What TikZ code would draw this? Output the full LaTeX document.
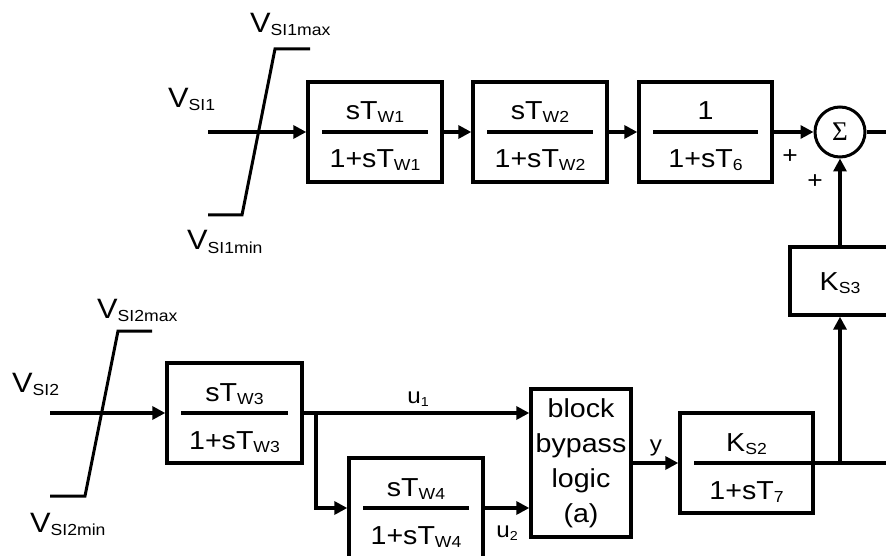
\documentclass[tikz,border=0pt]{standalone}
\usepackage{fontspec}
\setmainfont{Liberation Sans}[FakeStretch=1.1]
\newfontfamily\sigfont{Liberation Serif}
\usetikzlibrary{arrows.meta,calc}
\newcommand{\sbs}[1]{\raisebox{-3pt}{\fontsize{16}{16}\selectfont #1}}
\newcommand{\usbs}[1]{\raisebox{-3pt}{\fontsize{13}{13}\selectfont #1}}
\begin{document}
\begin{tikzpicture}[x=1pt,y=-1pt,
  blk/.style={draw, line width=3.4pt, inner sep=0pt, minimum width=134pt, minimum height=100pt},
  txt/.style={inner sep=0pt, font=\fontsize{26}{32}\selectfont},
  vlbl/.style={inner sep=0pt, font=\fontsize{28}{32}\selectfont},
  lbl/.style={inner sep=0pt, font=\fontsize{22}{26}\selectfont},
  wire/.style={line width=3.2pt},
  arr/.style={wire, -{Triangle[length=13pt,width=13pt]}},
  thickarr/.style={line width=3.8pt, -{Triangle[length=13pt,width=13pt]}},
  fracline/.style={line width=3.4pt},
  limiter/.style={line width=3pt}
]
\clip (0,0) rectangle (886,556);
\fill[white] (0,0) rectangle (886,556);

% ---------- top row ----------
\node[blk] (w1) at (375,132) {};
\node[txt, anchor=base] (n1) at ($(w1.center)+(0,-12)$) {sT\sbs{W1}};
\node[txt, anchor=base] (d1) at ($(w1.center)+(0,36)$) {1+sT\sbs{W1}};
\draw[fracline] ($(w1.west)+(16,0)$) -- ($(w1.east)+(-16,0)$);

\node[blk] (w2) at (540,132) {};
\node[txt, anchor=base] (n2) at ($(w2.center)+(0,-12)$) {sT\sbs{W2}};
\node[txt, anchor=base] (d2) at ($(w2.center)+(0,36)$) {1+sT\sbs{W2}};
\draw[fracline] ($(w2.west)+(16,0)$) -- ($(w2.east)+(-16,0)$);

\node[blk, minimum width=133pt] (w6) at (705.5,132) {};
\node[txt, anchor=base] (n6) at ($(w6.center)+(0,-12)$) {1};
\node[txt, anchor=base] (d6) at ($(w6.center)+(0,36)$) {1+sT\sbs{6}};
\draw[fracline] ($(w6.west)+(16,0)$) -- ($(w6.east)+(-16,0)$);

\node[draw, circle, line width=3pt, minimum size=50pt, inner sep=0pt,
      font=\sigfont\fontsize{27}{27}\selectfont] (sum) at (840,132) {Σ};
\node[lbl, font=\fontsize{24}{24}\selectfont] (p1) at (790,157) {+};
\node[lbl, font=\fontsize{24}{24}\selectfont] (p2) at (815,182) {+};

\node[blk, minimum width=100pt, minimum height=68pt] (ks3) at (840,281) {};
\node[txt, anchor=base] (ks3t) at ($(ks3.center)+(0,9)$) {K\sbs{S3}};

% limiter 1
\draw[limiter] (208,215) -- (242,215) -- (275,49) -- (310,49);
\node[vlbl, anchor=base west] (v1) at (168,108) {V\sbs{SI1}};
\node[vlbl, anchor=base west] (v1max) at (250,33) {V\sbs{SI1max}};
\node[vlbl, anchor=base west] (v1min) at (187,250) {V\sbs{SI1min}};

\coordinate (in1) at (208,132);
\draw[arr] (in1) -- (w1);
\draw[arr] (w1) -- (w2);
\draw[arr] (w2) -- (w6);
\draw[arr] (w6) -- (sum);
\coordinate (out1) at (890,132);
\draw[wire] (sum) -- (out1);

% ---------- bottom row ----------
\node[blk, minimum width=135pt] (w3) at (234.5,413) {};
\node[txt, anchor=base] (n3) at ($(w3.center)+(0,-12)$) {sT\sbs{W3}};
\node[txt, anchor=base] (d3) at ($(w3.center)+(0,36)$) {1+sT\sbs{W3}};
\draw[fracline] ($(w3.west)+(16,0)$) -- ($(w3.east)+(-16,0)$);

\node[blk] (w4) at (416,508) {};
\node[txt, anchor=base] (n4) at ($(w4.center)+(0,-12)$) {sT\sbs{W4}};
\node[txt, anchor=base] (d4) at ($(w4.center)+(0,36)$) {1+sT\sbs{W4}};
\draw[fracline] ($(w4.west)+(16,0)$) -- ($(w4.east)+(-16,0)$);

\node[blk, minimum width=100pt, minimum height=148pt, align=center,
      font=\fontsize{26}{35}\selectfont] (logic) at (581,463) {block\\bypass\\logic\\(a)};

\node[blk, minimum width=133pt] (ks2) at (746.5,463) {};
\node[txt, anchor=base] (n7) at ($(ks2.center)+(0,-12)$) {K\sbs{S2}};
\node[txt, anchor=base] (d7) at ($(ks2.center)+(0,36)$) {1+sT\sbs{7}};
\draw[fracline] ($(ks2.west)+(16,0)$) -- (ks2.east);

% limiter 2
\draw[limiter] (50,496) -- (85,496) -- (118,331) -- (152,331);
\node[vlbl, anchor=base west] (v2) at (12,392) {V\sbs{SI2}};
\node[vlbl, anchor=base west] (v2max) at (97,318) {V\sbs{SI2max}};
\node[vlbl, anchor=base west] (v2min) at (30,532) {V\sbs{SI2min}};

\coordinate (in2) at (50,413);
\draw[arr] (in2) -- (w3);
\coordinate (br) at (316,413);
\draw[arr] (w3.east) -- (logic.west |- w3.east);
\draw[arr] (br) |- (w4.west);
\draw[arr] (w4.east) -- (logic.west |- w4.east);
\draw[arr] (logic) -- (ks2);
\coordinate (out2) at (890,463);
\draw[wire] (ks2.east) -- (out2);
\coordinate (jn) at (840,463);
\draw[thickarr] (jn) -- (ks3);
\draw[thickarr] (ks3) -- (sum);

\node[lbl] (u1) at (418,399) {u\usbs{1}};
\node[lbl] (u2) at (507,533) {u\usbs{2}};
\node[lbl] (ylab) at (656,448) {y};
\end{tikzpicture}
\end{document}
